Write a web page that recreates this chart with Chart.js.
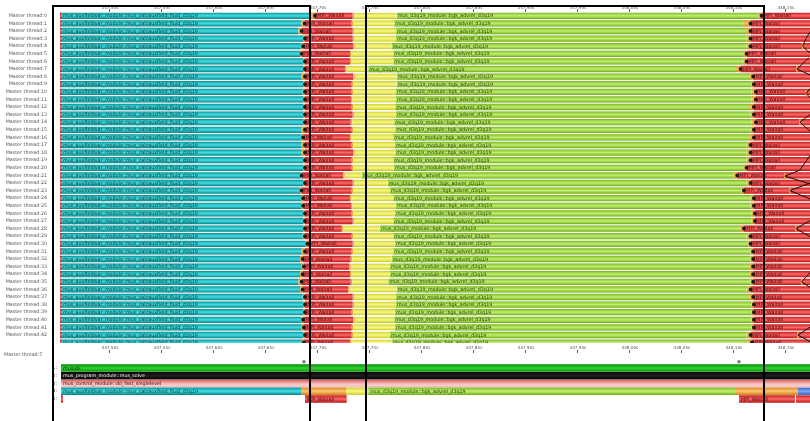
<!DOCTYPE html>
<html>
<head>
<meta charset="utf-8">
<script src="https://cdn.jsdelivr.net/npm/chart.js@4"></script>
<style>
  html, body { margin: 0; padding: 0; background: #fff; }
  #wrap { position: relative; width: 810px; height: 421px; overflow: hidden; background: #fff; }
  #wrap canvas { position: absolute; left: 0; }
  #timeline { top: 0; }
  #stack { top: 343px; }
</style>
</head>
<body>
<div id="wrap">
  <canvas id="timeline" width="810" height="343"></canvas>
  <canvas id="stack" width="810" height="78"></canvas>
</div>
<script>
const FONT = '"DejaVu Sans", sans-serif';

// ---- time axis (seconds) ----
const viewStart = 347.4520;
const viewEnd = 348.1732;
const tickValues = [347.50, 347.55, 347.60, 347.65, 347.70, 347.75, 347.80, 347.85, 347.90, 347.95, 348.00, 348.05, 348.10, 348.15];
const tickLabels = ['347,50s', '347,55s', '347,60s', '347,65s', '347,70s', '347,75s', '347,80s', '347,85s', '347,90s', '347,95s', '348,00s', '348,05s', '348,10s', '348,15s'];

// ---- threads ----
const threads = Array.from({ length: 44 }, (_, i) => 'Master thread:' + i);

const traceStart = 347.4520;
const calcStart = 347.4539;
const traceEnd = 348.1800;

// end of mus_calcauxfield_fluid_d3q19 per thread
const calcEnd = [
  347.6924, 347.6837, 347.6811, 347.6859, 347.6844, 347.6828, 347.6859, 347.6859, 347.6844, 347.6859,
  347.6854, 347.6859, 347.6859, 347.6859, 347.6859, 347.6844, 347.6844, 347.6844, 347.6844, 347.6859,
  347.6859, 347.6837, 347.6859, 347.6828, 347.6844, 347.6844, 347.6859, 347.6859, 347.6859, 347.6854,
  347.6876, 347.6844, 347.6828, 347.6844, 347.6828, 347.6811, 347.6828, 347.6854, 347.6859, 347.6859,
  347.6844, 347.6844, 347.6859, 347.6847
];
// first MPI_Waitall: start / end
const waitStart = [
  347.6972, 347.6873, 347.6844, 347.6876, 347.6859, 347.6844, 347.6876, 347.6876, 347.6876, 347.6876,
  347.6876, 347.6876, 347.6876, 347.6876, 347.6876, 347.6876, 347.6859, 347.6876, 347.6876, 347.6876,
  347.6876, 347.6844, 347.6876, 347.6844, 347.6859, 347.6859, 347.6876, 347.6876, 347.6876, 347.6876,
  347.6898, 347.6876, 347.6854, 347.6866, 347.6854, 347.6844, 347.6854, 347.6876, 347.6876, 347.6876,
  347.6859, 347.6866, 347.6876, 347.6866
];
const waitEnd = [
  347.7334, 347.7325, 347.7334, 347.7334, 347.7340, 347.7308, 347.7308, 347.7260, 347.7340, 347.7325,
  347.7325, 347.7318, 347.7325, 347.7334, 347.7315, 347.7325, 347.7308, 347.7325, 347.7340, 347.7325,
  347.7325, 347.7244, 347.7334, 347.7325, 347.7308, 347.7318, 347.7325, 347.7334, 347.7229, 347.7325,
  347.7334, 347.7325, 347.7315, 347.7302, 347.7308, 347.7315, 347.7292, 347.7334, 347.7334, 347.7325,
  347.7340, 347.7325, 347.7325, 347.7308
];
// bgk_advrel_d3q19: start / end
const advrelStart = [
  347.7757, 347.7734, 347.7751, 347.7751, 347.7709, 347.7725, 347.7725, 347.7484, 347.7757, 347.7757,
  347.7751, 347.7751, 347.7744, 347.7751, 347.7734, 347.7744, 347.7725, 347.7741, 347.7744, 347.7725,
  347.7732, 347.7421, 347.7671, 347.7693, 347.7725, 347.7751, 347.7741, 347.7725, 347.7597, 347.7725,
  347.7741, 347.7725, 347.7709, 347.7693, 347.7693, 347.7677, 347.7757, 347.7751, 347.7751, 347.7741,
  347.7734, 347.7741, 347.7693, 347.7712
];
const advrelEnd = [
  348.1234, 348.1090, 348.1116, 348.1123, 348.1123, 348.1097, 348.1084, 348.1020, 348.1155, 348.1171,
  348.1171, 348.1171, 348.1155, 348.1161, 348.1171, 348.1161, 348.1155, 348.1123, 348.1123, 348.1123,
  348.1097, 348.0994, 348.1123, 348.1075, 348.1161, 348.1161, 348.1171, 348.1171, 348.1058, 348.1123,
  348.1138, 348.1161, 348.1161, 348.1155, 348.1155, 348.1161, 348.1123, 348.1155, 348.1171, 348.1171,
  348.1171, 348.1171, 348.1123, 348.1135
];
// second MPI_Waitall start
const waitStart2 = [
  348.1267, 348.1161, 348.1161, 348.1161, 348.1161, 348.1123, 348.1123, 348.1065, 348.1186, 348.1193,
  348.1212, 348.1212, 348.1193, 348.1193, 348.1212, 348.1193, 348.1193, 348.1161, 348.1161, 348.1161,
  348.1123, 348.1033, 348.1161, 348.1097, 348.1193, 348.1193, 348.1203, 348.1203, 348.1097, 348.1161,
  348.1161, 348.1186, 348.1186, 348.1186, 348.1186, 348.1186, 348.1161, 348.1186, 348.1193, 348.1193,
  348.1193, 348.1193, 348.1161, 348.1174
];

// message lines, points as [time, thread]
const messages = [
  [[348.1732, 2.1], [348.1693, 3], [348.1661, 4], [348.1706, 4.6], [348.1751, 5]],
  [[348.1722, 5.5], [348.1607, 7], [348.1751, 7.9]],
  [[348.1751, 9.3], [348.1693, 10.2], [348.1751, 11]],
  [[348.1751, 12.8], [348.1635, 14], [348.1751, 15.4]],
  [[348.1751, 18], [348.1635, 20.3], [348.1491, 21.1], [348.1751, 22.2]],
  [[348.1751, 21.9], [348.1539, 23], [348.1751, 24.2]],
  [[348.1751, 26.8], [348.1597, 28], [348.1751, 29.2]],
  [[348.1751, 33.5], [348.1652, 35], [348.1751, 35.9]],
  [[348.1751, 40.8], [348.1616, 42], [348.1751, 43]]
];

// framed time intervals
const markedIntervals = [[347.4453, 347.6924], [347.7462, 348.1289]];

// ---- call stack of Master thread:7 ----
const stackLevel = [1, 2, 3, 4, 4, 4, 4, 4, 4, 5, 5, 5, 5];
const stackStart = [347.4530, 347.4530, 347.4530, 347.4530, 347.6844, 347.7270, 347.7484, 348.1010, 348.1613, 347.4530, 347.6876, 348.1049, 348.1597];
const stackEnd   = [348.1800, 348.1800, 348.1800, 347.6844, 347.7270, 347.7484, 348.1010, 348.1613, 348.1800, 347.4549, 347.7277, 348.1587, 348.1800];
const stackKind  = ['musubi', 'solve', 'control', 'calc', 'omp', 'idle', 'advrel', 'omp', 'other', 'mpi', 'mpi', 'mpi', 'mpi'];
const thread7Marks = [347.6866, 348.1049];

const regionName = {
  musubi: 'musubi',
  solve: 'mus_program_module::mus_solve',
  control: 'mus_control_module::do_fast_singlelevel',
  calc: 'mus_auxfieldvar_module::mus_calcauxfield_fluid_d3q19',
  advrel: 'mus_d3q19_module::bgk_advrel_d3q19',
  mpi: 'MPI_Waitall'
};

// ---- styling ----
const palette = {
  calc:    ['#0b8a90', '#24c0c7', '#47d9de', '#22b5bc', '#0a7d84'],
  omp:     ['#d8881f', '#f0a948', '#f8c477', '#eca242', '#cf7f1c'],
  mpi:     ['#c21c1c', '#e64242', '#f46c6c', '#e33a3a', '#b81616'],
  idle:    ['#cccc30', '#e8e858', '#f6f688', '#e4e452', '#c4c42a'],
  advrel:  ['#78b224', '#a0d746', '#bfed72', '#9bd242', '#6ea81e'],
  other:   ['#3864c6', '#5a88e4', '#7ca6f2', '#5584df', '#325ebd'],
  musubi:  ['#078607', '#17b017', '#30d230', '#1ab81a', '#0a900a'],
  solve:   ['#000000', '#121212', '#1e1e1e', '#121212', '#000000'],
  control: ['#d95858', '#ea8a8a', '#f5b6b6', '#f9cfcf', '#f2b4b4']
};
const textColor = {
  calc: '#123a2c', mpi: '#4a0d0d', advrel: '#2b3b0c',
  musubi: '#0b2e0b', solve: '#e8e8e8', control: '#3b1212'
};
const barFill = { timeline: 0.83, stack: 0.95 };

function shade(kind, frac) {
  return (c) => {
    const stops = palette[kind];
    if (c.type !== 'data' || !c.parsed) return stops[2];
    const ys = c.chart.scales.y;
    const mid = ys.getPixelForValue(c.parsed.y);
    const half = Math.abs(ys.getPixelForValue(1) - ys.getPixelForValue(0)) * frac / 2;
    if (!isFinite(mid) || !isFinite(half) || half <= 0) return stops[2];
    const g = c.chart.ctx.createLinearGradient(0, mid - half, 0, mid + half);
    stops.forEach((s, k) => g.addColorStop(k / (stops.length - 1), s));
    return g;
  };
}

const pick = (v, i) => Array.isArray(v) ? v[i] : v;

function lane(kind, starts, ends, extra) {
  return Object.assign({
    type: 'bar',
    data: threads.map((_, i) => ({ y: i, x: [pick(starts, i), pick(ends, i)] })),
    backgroundColor: shade(kind, barFill.timeline),
    kinds: threads.map(() => kind)
  }, extra || {});
}

function timeAxis(height, labelPad) {
  return {
    type: 'linear',
    position: 'top',
    offset: false,
    bounds: 'data',
    min: viewStart,
    max: viewEnd,
    afterFit: (a) => { a.height = height; a.paddingLeft = 0; a.paddingRight = 0; a.paddingTop = 0; a.paddingBottom = 0; },
    afterBuildTicks: (a) => { a.ticks = tickValues.map(v => ({ value: v })); },
    ticks: {
      autoSkip: false, maxRotation: 0, minRotation: 0, padding: labelPad,
      color: '#555', font: { family: FONT, size: 4.2 },
      callback: (v, i) => tickLabels[i]
    },
    grid: { drawOnChartArea: false, drawTicks: true, tickLength: 3, color: '#666', lineWidth: 1 },
    border: { display: false }
  };
}

function laneAxis(extra) {
  return Object.assign({
    type: 'linear',
    reverse: true,
    offset: false,
    bounds: 'data',
    afterFit: (a) => { a.width = 60; a.paddingTop = 0; a.paddingBottom = 0; a.paddingLeft = 0; a.paddingRight = 0; },
    grid: { display: false, drawTicks: false },
    border: { display: false }
  }, extra);
}

// region names written inside the bars
const barText = {
  id: 'barText',
  afterDatasetsDraw(chart) {
    const { ctx, chartArea } = chart;
    const xs = chart.scales.x;
    ctx.save();
    ctx.beginPath();
    ctx.rect(chartArea.left, chartArea.top, chartArea.width, chartArea.height);
    ctx.clip();
    ctx.textBaseline = 'middle';
    ctx.textAlign = 'left';
    ctx.font = `4.8px ${FONT}`;
    chart.data.datasets.forEach((ds, di) => {
      if (!ds.showText) return;
      const meta = chart.getDatasetMeta(di);
      meta.data.forEach((bar, i) => {
        const kind = ds.kinds[i];
        const text = regionName[kind];
        if (!text) return;
        const raw = ds.data[i];
        const x0 = xs.getPixelForValue(raw.x[0]);
        const x1 = xs.getPixelForValue(raw.x[1]);
        if (x1 - x0 < ctx.measureText(text).width + 2) return;
        ctx.fillStyle = textColor[kind] || '#222';
        ctx.fillText(text, x0 + (ds.textPad || 1.5), bar.y + 0.3);
      });
    });
    ctx.restore();
  }
};

// black frames around the selected intervals
const frames = {
  id: 'frames',
  afterDraw(chart, args, opts) {
    const { ctx } = chart;
    const xs = chart.scales.x;
    ctx.save();
    ctx.strokeStyle = '#000';
    ctx.lineWidth = 2;
    markedIntervals.forEach(([a, b]) => {
      const xa = Math.round(xs.getPixelForValue(a));
      const xb = Math.round(xs.getPixelForValue(b));
      ctx.beginPath();
      if (opts.top != null) {
        ctx.moveTo(xa, chart.height);
        ctx.lineTo(xa, opts.top);
        ctx.lineTo(xb, opts.top);
        ctx.lineTo(xb, chart.height);
      } else {
        ctx.moveTo(xa, 0); ctx.lineTo(xa, chart.height);
        ctx.moveTo(xb, 0); ctx.lineTo(xb, chart.height);
      }
      ctx.stroke();
    });
    ctx.restore();
  }
};

// point-to-point message lines
const messageLines = {
  id: 'messageLines',
  afterDatasetsDraw(chart) {
    const { ctx, chartArea } = chart;
    const xs = chart.scales.x, ys = chart.scales.y;
    ctx.save();
    ctx.beginPath();
    ctx.rect(chartArea.left, chartArea.top, chartArea.width, chartArea.height);
    ctx.clip();
    messages.forEach(path => {
      const v = path.reduce((a, b) => (b[0] < a[0] ? b : a));
      ctx.fillStyle = '#f2a93a';
      ctx.fillRect(xs.getPixelForValue(v[0]) - 0.8, ys.getPixelForValue(v[1]) - 3, 1.6, 6);
      ctx.beginPath();
      path.forEach(([t, r], k) => {
        const px = xs.getPixelForValue(t), py = ys.getPixelForValue(r);
        if (k) ctx.lineTo(px, py); else ctx.moveTo(px, py);
      });
      ctx.strokeStyle = '#111';
      ctx.lineWidth = 1;
      ctx.stroke();
    });
    ctx.restore();
  }
};

const threadHeader = {
  id: 'threadHeader',
  afterDraw(chart) {
    const { ctx } = chart;
    ctx.save();
    ctx.font = `4.8px ${FONT}`;
    ctx.fillStyle = '#555';
    ctx.textBaseline = 'middle';
    ctx.textAlign = 'left';
    ctx.fillText(threads[7], 4, 12);
    ctx.restore();
  }
};

const common = {
  responsive: false,
  maintainAspectRatio: false,
  animation: false,
  indexAxis: 'y',
  layout: { padding: 0, autoPadding: false },
  plugins: { legend: { display: false }, title: { display: false }, tooltip: { enabled: false } }
};

// ---- timeline of all threads ----
new Chart(document.getElementById('timeline'), {
  type: 'bar',
  data: {
    datasets: [
      {
        type: 'scatter', indexAxis: 'x', order: -1,
        data: waitStart.map((t, i) => ({ x: t, y: i })).concat(waitStart2.map((t, i) => ({ x: t, y: i }))),
        pointRadius: 2, pointHoverRadius: 2, pointBackgroundColor: '#1b1b1b', pointBorderWidth: 0, borderWidth: 0
      },
      lane('mpi', traceStart, calcStart),
      lane('calc', calcStart, calcEnd, { showText: true, textPad: 1 }),
      lane('omp', calcEnd, waitStart),
      lane('mpi', waitStart, waitEnd, { showText: true, textPad: 2.3 }),
      lane('idle', waitEnd, advrelStart, {
        borderSkipped: false, borderColor: '#eda23e',
        borderWidth: { left: 1.5, right: 0, top: 0, bottom: 0 }
      }),
      lane('advrel', advrelStart, advrelEnd, { showText: true, textPad: 1 }),
      lane('omp', advrelEnd, waitStart2),
      lane('mpi', waitStart2, traceEnd, { showText: true, textPad: 2.3 })
    ]
  },
  options: Object.assign({}, common, {
    datasets: { bar: { grouped: false, barPercentage: barFill.timeline, categoryPercentage: 1, borderWidth: 0 } },
    scales: {
      x: timeAxis(12, -1.6),
      y: laneAxis({
        min: -0.5, max: 43.05,
        afterBuildTicks: (a) => { a.ticks = threads.slice(0, 43).map((_, i) => ({ value: i })); },
        ticks: { autoSkip: false, padding: 13, color: '#555', font: { family: FONT, size: 4.8 }, callback: (v) => threads[v] }
      })
    },
    plugins: Object.assign({}, common.plugins, { frames: { top: 6 } })
  }),
  plugins: [barText, messageLines, frames]
});

// ---- call stack of Master thread:7 ----
new Chart(document.getElementById('stack'), {
  type: 'bar',
  data: {
    datasets: [
      {
        type: 'scatter', indexAxis: 'x', order: -1,
        data: thread7Marks.map(t => ({ x: t, y: 0.19 })),
        pointRadius: 1.7, pointHoverRadius: 1.7, pointBackgroundColor: '#7a7a7a', pointBorderWidth: 0, borderWidth: 0
      },
      {
        type: 'bar',
        showText: true, textPad: 2,
        kinds: stackKind,
        data: stackLevel.map((lv, i) => ({ y: lv, x: [stackStart[i], stackEnd[i]] })),
        backgroundColor: (c) => shade(stackKind[c.dataIndex] || 'other', barFill.stack)(c)
      }
    ]
  },
  options: Object.assign({}, common, {
    datasets: { bar: { grouped: false, barPercentage: barFill.stack, categoryPercentage: 1, borderWidth: 0 } },
    scales: {
      x: timeAxis(10, 0),
      y: laneAxis({
        min: -0.935, max: 7.839,
        afterBuildTicks: (a) => { a.ticks = [1, 2, 3, 4, 5].map(v => ({ value: v })); },
        ticks: { autoSkip: false, padding: 3, color: '#333', font: { family: FONT, size: 4.8 }, callback: (v) => v + ':' }
      })
    },
    plugins: Object.assign({}, common.plugins, { frames: {} })
  }),
  plugins: [barText, frames, threadHeader]
});
</script>
</body>
</html>
